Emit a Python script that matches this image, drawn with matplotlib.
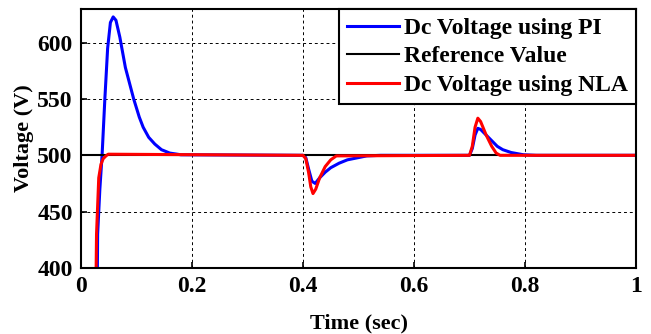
import matplotlib.pyplot as plt
import numpy as np

# values
t_pi = [0.0, 0.028, 0.030, 0.034, 0.038, 0.043, 0.048, 0.053, 0.058, 0.063, 0.070,
        0.080, 0.095, 0.105, 0.112, 0.122, 0.133, 0.145, 0.160, 0.180, 0.40,
        0.405, 0.410, 0.416, 0.422, 0.430, 0.440, 0.450, 0.465, 0.480, 0.500,
        0.515, 0.540, 0.700, 0.705, 0.710, 0.715, 0.720, 0.730, 0.740, 0.750,
        0.760, 0.775, 0.797, 0.820, 1.0]
v_pi = [300, 300, 430, 470, 500, 550, 595, 618, 623, 620, 605,
        578, 550, 534, 525, 516, 510, 505, 502, 500.5, 500,
        498, 488, 477, 475, 480, 485, 489, 493, 496, 498,
        499.5, 500, 500, 506, 518, 524, 523, 518, 513, 508,
        505, 502.5, 500.5, 500, 500]

t_nla = [0.0, 0.025, 0.028, 0.032, 0.036, 0.040, 0.045, 0.049, 0.40,
         0.405, 0.410, 0.414, 0.418, 0.423, 0.430, 0.440, 0.450, 0.460,
         0.700, 0.705, 0.710, 0.715, 0.720, 0.730, 0.740, 0.748, 0.755, 1.0]
v_nla = [300, 300, 430, 480, 492, 497, 499.5, 501, 500,
         497, 485, 472, 466, 470, 480, 490, 496, 499.5,
         500, 508, 525, 533, 530, 518, 508, 502, 500, 500]

t_ref = [0.0, 1.0]
v_ref = [500, 500]

labels = ['Dc Voltage using PI', 'Reference Value', 'Dc Voltage using NLA']

plt.rcParams['font.family'] = ['Liberation Serif', 'DejaVu Serif']
plt.rcParams['font.weight'] = 'bold'

fig = plt.figure(figsize=(6.51, 3.34), dpi=100)
ax = fig.add_axes([0.1244, 0.198, 0.8526, 0.775])

ax.plot(t_pi, v_pi, color='#0000ff', lw=2.2, label=labels[0])
ax.plot(t_ref, v_ref, color='black', lw=1.5, label=labels[1])
ax.plot(t_nla, v_nla, color='#ff0000', lw=2.2, label=labels[2])

ax.set_xlim(0, 1)
ax.set_ylim(400, 630)
ax.set_xticks([0, 0.2, 0.4, 0.6, 0.8, 1])
ax.set_xticklabels(['0', '0.2', '0.4', '0.6', '0.8', '1'])
ax.set_yticks([400, 450, 500, 550, 600])
ax.grid(True, color='black', linestyle=(0, (3, 3)), linewidth=0.7)
ax.tick_params(direction='in', labelsize=17, width=1.2, length=4, pad=6)
for s in ax.spines.values():
    s.set_linewidth(1.5)

ax.set_xlabel('Time (sec)', fontsize=16, fontweight='bold', labelpad=12)
ax.set_ylabel('Voltage (V)', fontsize=16, fontweight='bold', labelpad=2)

leg = ax.legend(loc='upper right', fontsize=17, frameon=True, fancybox=False,
                borderaxespad=0, handlelength=2.2, handletextpad=0.2,
                labelspacing=0.3, borderpad=0.35)
leg.get_frame().set_edgecolor('black')
leg.get_frame().set_linewidth(1.5)
leg.get_frame().set_alpha(1)

plt.savefig('out.png', dpi=100)
